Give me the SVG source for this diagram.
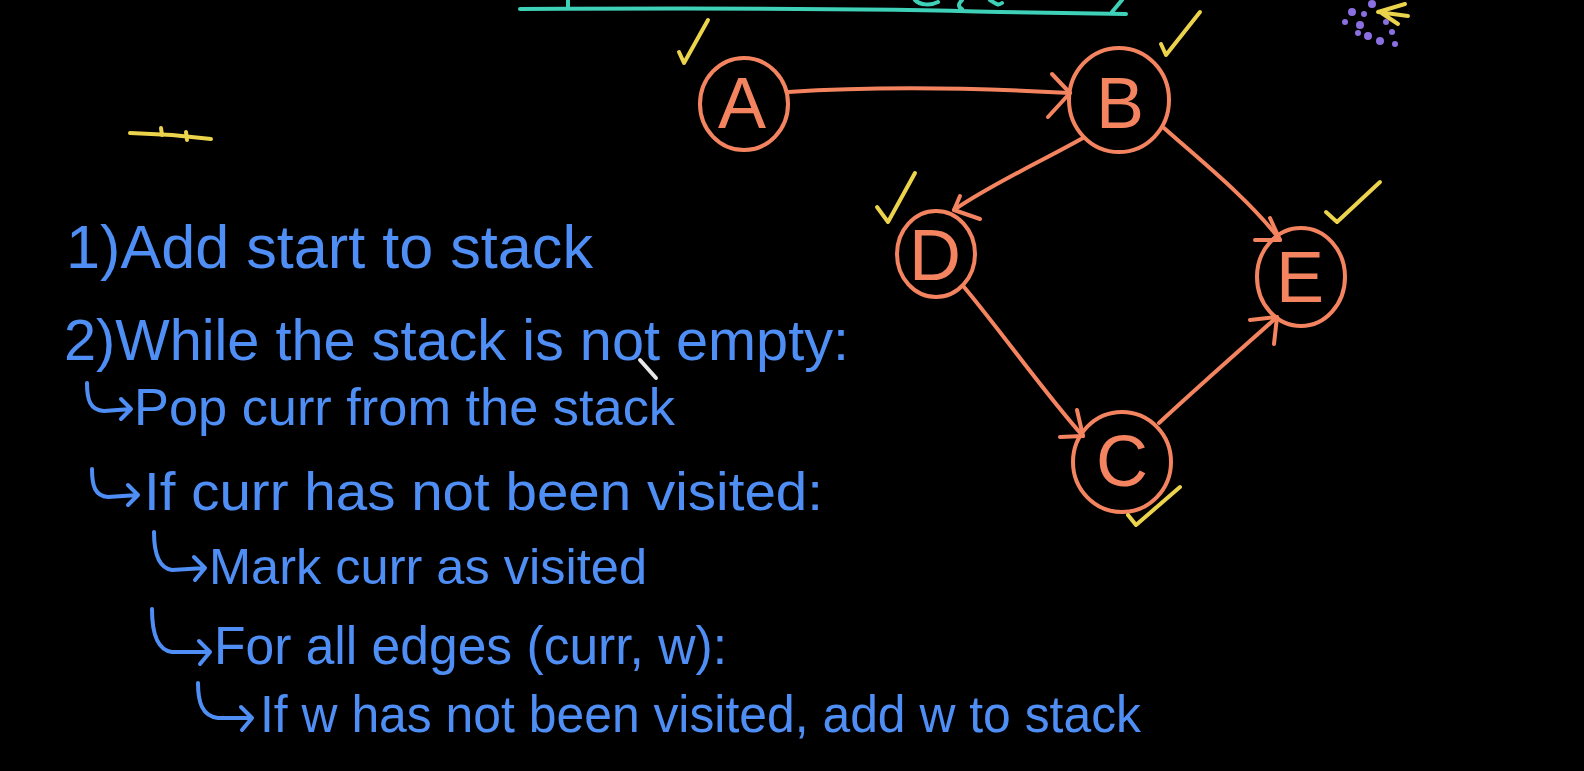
<svg xmlns="http://www.w3.org/2000/svg" width="1584" height="771" viewBox="0 0 1584 771">
<defs>
<style>
.bg{fill:#000}
.node circle,.node ellipse{fill:none;stroke:#f4845f;stroke-width:4}
.lbl{fill:#f4845f;font-family:"Liberation Sans",Arial,sans-serif;font-size:72px;text-anchor:middle}
.edge{fill:none;stroke:#f4845f;stroke-width:4;stroke-linecap:round;stroke-linejoin:round}
.chk{fill:none;stroke:#ecd34c;stroke-width:4;stroke-linecap:round;stroke-linejoin:round}
.teal{fill:none;stroke:#3fd0b8;stroke-width:4;stroke-linecap:round}
.txt{fill:#4f8ff5;font-family:"Liberation Sans",Arial,sans-serif}
.harrow{fill:none;stroke:#4f8ff5;stroke-width:4;stroke-linecap:round;stroke-linejoin:round}
</style>
</defs>
<rect class="bg" x="0" y="0" width="1584" height="771"/>

<!-- top teal underline fragment -->
<g id="header-fragment">
<path class="teal" d="M520,9 C700,8 900,9 1000,12 L1126,14"/>
<path class="teal" d="M568,0 L568,8"/>
<path class="teal" d="M1112,12 L1122,0"/>
<path class="teal" d="M915,0 C920,5 930,6 938,2"/>
<path class="teal" d="M962,0 C958,4 958,7 962,9"/>
<path class="teal" d="M990,0 C996,4 998,6 1002,3"/>
</g>

<!-- yellow mark at left -->
<g id="left-mark">
<path class="chk" d="M130,133 L172,135 L211,139"/>
<path class="chk" d="M161,128 L162,135"/>
<path class="chk" d="M186,132 L187,140"/>
</g>

<!-- sparkle top right -->
<g id="sparkle">
<g fill="#8a6fe0">
<circle cx="1352" cy="12" r="4"/><circle cx="1360" cy="25" r="4"/><circle cx="1345" cy="22" r="3"/>
<circle cx="1368" cy="36" r="4"/><circle cx="1380" cy="41" r="4"/><circle cx="1392" cy="32" r="3"/>
<circle cx="1372" cy="4" r="4"/><circle cx="1358" cy="33" r="3"/><circle cx="1386" cy="22" r="3"/>
<circle cx="1364" cy="14" r="3"/><circle cx="1395" cy="44" r="3"/>
</g>
<path class="chk" d="M1405,4 L1378,12 L1408,16 M1380,12 L1398,24"/>
</g>

<!-- connectors -->
<g id="connectors">
<path class="edge" d="M788,92 C880,86 980,88 1070,93"/>
<path class="edge" d="M1052,74 L1070,93 L1048,117"/>

<path class="edge" d="M1083,138 C1040,162 990,185 954,210"/>
<path class="edge" d="M980,219 L954,210 L960,196"/>

<path class="edge" d="M1164,128 C1200,160 1250,200 1280,240"/>
<path class="edge" d="M1255,240 L1280,240 L1270,218"/>

<path class="edge" d="M964,287 C1000,330 1050,400 1083,436"/>
<path class="edge" d="M1060,437 L1083,436 L1077,410"/>

<path class="edge" d="M1159,423 C1200,385 1240,350 1277,317"/>
<path class="edge" d="M1250,320 L1277,317 L1274,344"/>
</g>

<!-- nodes -->
<g id="node-A" class="node">
<ellipse cx="744" cy="104" rx="44" ry="46"/>
<text class="lbl" x="742" y="128">A</text>
</g>
<g id="node-B" class="node">
<ellipse cx="1119" cy="100" rx="50" ry="52"/>
<text class="lbl" x="1120" y="128">B</text>
</g>
<g id="node-D" class="node">
<ellipse cx="936" cy="254" rx="39" ry="43"/>
<text class="lbl" x="935" y="280">D</text>
</g>
<g id="node-E" class="node">
<ellipse cx="1301" cy="277" rx="44" ry="49"/>
<text class="lbl" x="1300" y="302">E</text>
</g>
<g id="node-C" class="node">
<ellipse cx="1122" cy="462" rx="49" ry="50"/>
<text class="lbl" x="1122" y="486">C</text>
</g>

<!-- check marks -->
<g id="checks">
<path class="chk" d="M679,52 L684,63 L708,20"/>
<path class="chk" d="M1161,44 L1166,55 L1200,12"/>
<path class="chk" d="M877,207 L888,222 L915,173"/>
<path class="chk" d="M1326,212 L1337,222 L1380,182"/>
<path class="chk" d="M1128,515 L1136,525 L1180,487"/>
</g>

<!-- cursor -->
<g id="cursor">
<path d="M640,360 L656,378" stroke="#e8e8e8" stroke-width="4" stroke-linecap="round"/>
</g>

<!-- text -->
<g id="steps">
<text class="txt" x="66" y="268" font-size="62" textLength="527" lengthAdjust="spacingAndGlyphs">1)Add  start to stack</text>
<text class="txt" x="64" y="360" font-size="58" textLength="785" lengthAdjust="spacingAndGlyphs">2)While the stack  is not empty:</text>
<path class="harrow" d="M87,383 C87,400 90,410 104,411 L131,409 M121,399 L131,409 L121,419"/>
<text class="txt" x="134" y="425" font-size="52" textLength="541" lengthAdjust="spacingAndGlyphs">Pop curr from the stack</text>
<path class="harrow" d="M92,469 C92,486 95,496 108,497 L138,495 M128,485 L138,495 L128,505"/>
<text class="txt" x="144" y="510" font-size="54" textLength="679" lengthAdjust="spacingAndGlyphs">If curr has not been visited:</text>
<path class="harrow" d="M154,532 C154,552 158,568 172,570 L205,568 M194,557 L205,568 L195,580"/>
<text class="txt" x="209" y="584" font-size="50" textLength="438" lengthAdjust="spacingAndGlyphs">Mark curr as visited</text>
<path class="harrow" d="M152,609 C152,630 156,650 172,652 L210,652 M199,641 L210,652 L200,664"/>
<text class="txt" x="214" y="664" font-size="54" textLength="513" lengthAdjust="spacingAndGlyphs">For all edges (curr, w):</text>
<path class="harrow" d="M198,683 C198,702 202,716 218,718 L252,718 M241,707 L252,718 L242,730"/>
<text class="txt" x="260" y="732" font-size="52" textLength="881" lengthAdjust="spacingAndGlyphs">If w has not been visited, add w to stack</text>
</g>
</svg>
